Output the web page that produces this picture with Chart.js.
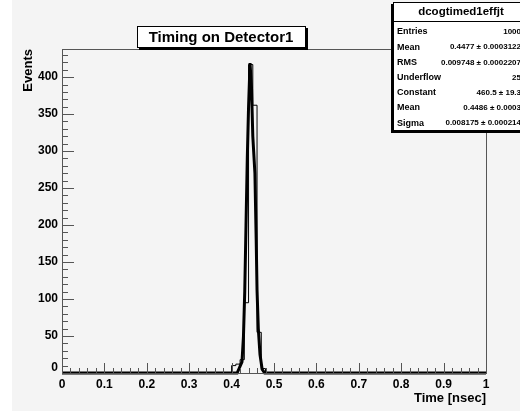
<!DOCTYPE html>
<html>
<head>
<meta charset="utf-8">
<script src="https://cdn.jsdelivr.net/npm/chart.js@4.4.1/dist/chart.umd.min.js"></script>
<style>
  html, body { margin: 0; padding: 0; background: #ffffff; }
  #wrap { width: 520px; height: 411px; }
</style>
</head>
<body>
<div id="wrap"><canvas id="timing" width="520" height="411"></canvas></div>
<script>
// histogram: lower bin edge -> counts (bin width 0.01)
const binEdges = [0, 0.40, 0.41, 0.42, 0.43, 0.44, 0.45, 0.46, 0.47, 0.48, 1.0];
const binCounts = [0, 10, 12, 18, 95, 417, 362, 55, 6, 0, 0];

// gaussian fit curve
const fitX = [0, 0.40, 0.413, 0.4245, 0.428, 0.431, 0.434, 0.437, 0.440, 0.4435, 0.447, 0.450, 0.455, 0.458, 0.460, 0.463, 0.467, 0.472, 0.478, 1.0];
const fitY = [0, 0, 0, 15, 50, 110, 200, 290, 360, 419, 385, 320, 270, 180, 112, 60, 25, 5, 0, 0];

const xTicks = [0, 0.1, 0.2, 0.3, 0.4, 0.5, 0.6, 0.7, 0.8, 0.9, 1];
const xTickLabels = ["0", "0.1", "0.2", "0.3", "0.4", "0.5", "0.6", "0.7", "0.8", "0.9", "1"];
const yTicks = [0, 50, 100, 150, 200, 250, 300, 350, 400];

const statsTitle = "dcogtimed1effjt";
const statsNames = ["Entries", "Mean", "RMS", "Underflow", "Constant", "Mean", "Sigma"];
const statsValues = ["1000", "0.4477 \u00b1 0.0003122", "0.009748 \u00b1 0.0002207", "25",
  "460.5 \u00b1 19.3", "0.4486 \u00b1 0.0003", "0.008175 \u00b1 0.000214"];

const histTitle = "Timing on Detector1";

const rootPad = {
  id: "rootPad",
  beforeDraw(chart) {
    const c = chart.ctx;
    c.save();
    c.fillStyle = "#f4f4f4";
    c.fillRect(0, 0, chart.width, chart.height);
    c.fillStyle = "#ffffff";
    c.fillRect(0, 0, 12, chart.height);
    c.restore();
  },
  afterDraw(chart) {
    const c = chart.ctx;
    const a = chart.chartArea;
    const xs = chart.scales.x, ys = chart.scales.y;
    c.save();
    // frame
    c.strokeStyle = "#555";
    c.lineWidth = 1;
    c.strokeRect(a.left + 0.5, a.top + 0.5, a.right - a.left, a.bottom - a.top);

    // y ticks (inside, pointing right)
    c.beginPath();
    for (let v = 0; v <= 430; v += 10) {
      const y = Math.round(ys.getPixelForValue(v)) + 0.5;
      const len = v % 50 === 0 ? 12 : 6;
      c.moveTo(a.left, y);
      c.lineTo(a.left + len, y);
    }
    // x ticks (inside, pointing up)
    for (let i = 0; i <= 50; i++) {
      const x = Math.round(xs.getPixelForValue(i * 0.02)) + 0.5;
      const len = i % 5 === 0 ? 10 : 5;
      c.moveTo(x, a.bottom);
      c.lineTo(x, a.bottom - len);
    }
    c.stroke();

    // tick labels
    c.fillStyle = "#000";
    c.font = "bold 12px 'Liberation Sans', Arial, sans-serif";
    c.textAlign = "right";
    c.textBaseline = "middle";
    yTicks.forEach((v) => {
      let y = ys.getPixelForValue(v);
      if (v === 0) y -= 5;
      c.fillText(String(v), a.left - 4, y);
    });
    c.textAlign = "center";
    c.textBaseline = "top";
    xTicks.forEach((v, i) => {
      c.fillText(xTickLabels[i], xs.getPixelForValue(v), a.bottom + 6);
    });

    // axis titles
    c.font = "bold 13px 'Liberation Sans', Arial, sans-serif";
    c.textAlign = "right";
    c.textBaseline = "alphabetic";
    c.fillText("Time [nsec]", a.right, a.bottom + 29);
    c.save();
    c.translate(32, a.top);
    c.rotate(-Math.PI / 2);
    c.textAlign = "right";
    c.fillText("Events", 0, 0);
    c.restore();

    // title box
    c.fillStyle = "#000";
    c.fillRect(139, 28, 169, 22);
    c.fillStyle = "#fff";
    c.fillRect(137, 26, 169, 22);
    c.strokeStyle = "#000";
    c.strokeRect(137.5, 26.5, 168, 21);
    c.fillStyle = "#000";
    c.font = "bold 15px 'Liberation Sans', Arial, sans-serif";
    c.textAlign = "center";
    c.textBaseline = "middle";
    c.fillText(histTitle, 221, 37.5);

    // stats box
    const bx = 393, by = 2, bw = 140, bh = 129;
    c.fillStyle = "#000";
    c.fillRect(bx - 2, by + 2, bw, bh);
    c.fillStyle = "#fff";
    c.fillRect(bx, by, bw, bh);
    c.strokeRect(bx + 0.5, by + 0.5, bw, bh - 1);
    c.beginPath();
    c.moveTo(bx, 21.5);
    c.lineTo(bx + bw, 21.5);
    c.stroke();
    c.fillStyle = "#000";
    c.font = "bold 11.5px 'Liberation Sans', Arial, sans-serif";
    c.textAlign = "center";
    c.fillText(statsTitle, 461, 12);
    statsNames.forEach((name, i) => {
      const y = 32 + i * 15.2;
      c.font = "bold 9px 'Liberation Sans', Arial, sans-serif";
      c.textAlign = "left";
      c.fillText(name, 397, y);
      c.font = "bold 8px 'Liberation Sans', Arial, sans-serif";
      c.textAlign = "right";
      c.fillText(statsValues[i], 521, y);
    });
    c.restore();
  }
};

const ctx = document.getElementById("timing");

new Chart(ctx, {
  type: "line",
  data: {
    datasets: [
      {
        label: "fit",
        data: fitX.map((x, i) => ({ x: x, y: fitY[i] })),
        borderColor: "#000",
        borderWidth: 3,
        pointRadius: 0,
        tension: 0,
        clip: 4,
      },
      {
        label: "histogram",
        data: binEdges.map((x, i) => ({ x: x, y: binCounts[i] })),
        borderColor: "#000",
        borderWidth: 1,
        pointRadius: 0,
        stepped: "before",
      },
    ],
  },
  options: {
    responsive: false,
    animation: false,
    layout: { padding: { left: 62, right: 34, top: 49, bottom: 38 } },
    plugins: {
      legend: { display: false },
      tooltip: { enabled: false },
    },
    scales: {
      x: { type: "linear", min: 0, max: 1, display: false },
      y: { min: 0, max: 438, display: false },
    },
  },
  plugins: [rootPad],
});
</script>
</body>
</html>
